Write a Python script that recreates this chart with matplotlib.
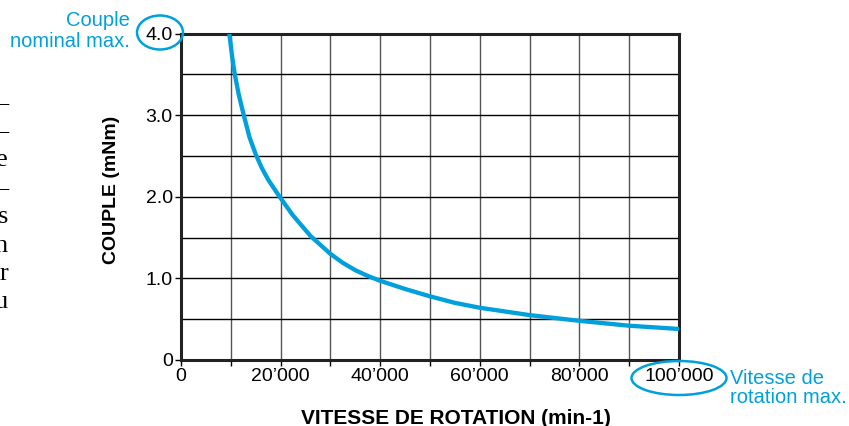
import matplotlib
matplotlib.use("Agg")
import matplotlib.pyplot as plt
from matplotlib.patches import Ellipse

# values
speed = [9700, 10300, 10800, 11600, 12600, 13750, 15000, 16250, 17500, 18700,
         19800, 22500, 26000, 30000, 32500, 35000, 37500, 40000, 45000, 50000,
         55000, 60000, 70000, 80000, 90000, 100000]
torque = [4.0, 3.7, 3.5, 3.25, 3.0, 2.73, 2.52, 2.35, 2.21, 2.10,
          2.0, 1.77, 1.52, 1.30, 1.19, 1.10, 1.03, 0.97, 0.87, 0.78,
          0.70, 0.64, 0.55, 0.48, 0.42, 0.38]
xticks = [0, 10000, 20000, 30000, 40000, 50000, 60000, 70000, 80000, 90000, 100000]
xlabels = ["0", "", "20\u2019000", "", "40\u2019000", "", "60\u2019000", "",
           "80\u2019000", "", "100\u2019000"]
yticks = [0, 1.0, 2.0, 3.0, 4.0]
ylabels = ["0", "1.0", "2.0", "3.0", "4.0"]
ygrid = [0.5, 1.0, 1.5, 2.0, 2.5, 3.0, 3.5]
margin_chars = ["\u2013", "\u2013", "e", "\u2013", "s", "n", "r", "u"]

blue = "#00a0dc"
W, H = 849, 426

plt.rcParams['font.family'] = ['Liberation Sans', 'DejaVu Sans']
fig = plt.figure(figsize=(W / 100, H / 100), dpi=100)
ax = fig.add_axes([181 / W, 1 - 360 / H, (679 - 181) / W, (360 - 33.5) / H])

for x in xticks[1:-1]:
    ax.axvline(x, color="#555555", lw=1.0, zorder=1)
for y in ygrid:
    ax.axhline(y, color="black", lw=1.0, zorder=1)

ax.plot(speed, torque, color=blue, lw=3.1, solid_capstyle="butt",
        solid_joinstyle="round", zorder=3)

ax.set_xlim(0, 100000)
ax.set_ylim(0, 4.0)
ax.set_xticks(xticks)
ax.set_xticklabels(xlabels, fontsize=14)
ax.set_yticks(yticks)
ax.set_yticklabels(ylabels, fontsize=14)
ax.tick_params(axis="both", direction="out", length=4, width=1.0, pad=2)
for s in ax.spines.values():
    s.set_linewidth(2.2)
    s.set_color("#222222")

fig.text(456 / W, 1 - 418 / H, "VITESSE DE ROTATION (min-1)", fontsize=15,
         fontweight="bold", ha="center", va="center")
fig.text(112 / W, 1 - 190 / H, "COUPLE (mNm)", fontsize=14, fontweight="bold",
         rotation=90, ha="center", va="center")

# annotations
fig.text(130 / W, 1 - 31 / H, "Couple\nnominal max.", fontsize=14.5, color=blue,
         ha="right", va="center", linespacing=1.12)
fig.text(730 / W, 1 - 388 / H, "Vitesse de\nrotation max.", fontsize=14.5, color=blue,
         ha="left", va="center", linespacing=1.05)
fig.add_artist(Ellipse((160 / W, 1 - 32.5 / H), 46 / W, 34 / H, transform=fig.transFigure,
                       fill=False, edgecolor=blue, lw=1.8))
fig.add_artist(Ellipse((679 / W, 1 - 378 / H), 95 / W, 34 / H, transform=fig.transFigure,
                       fill=False, edgecolor=blue, lw=1.8))

# cut-off text of the page at the left edge
for i, ch in enumerate(margin_chars):
    fig.text(8 / W, 1 - (103 + 28.5 * i) / H, ch, fontsize=19, ha="right", va="center",
             family=["Liberation Serif", "DejaVu Serif"])

fig.savefig("out.png", dpi=100)
